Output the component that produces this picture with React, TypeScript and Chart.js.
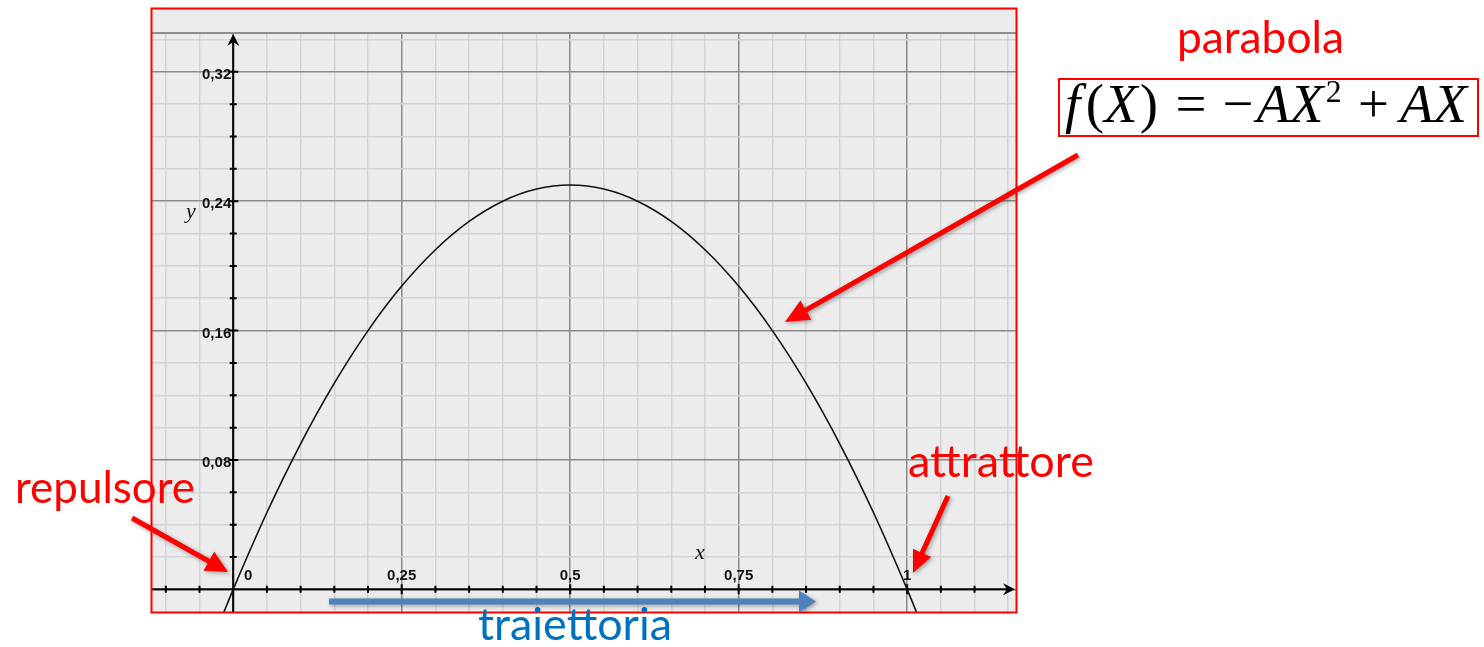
import React, { useEffect, useRef } from 'react';
import { Chart, registerables } from 'chart.js';

Chart.register(...registerables);

// Logistic parabola f(X) = -A X^2 + A X (A = 1), sampled every 0.05
const PARABOLA_X = [-0.015, 0, 0.05, 0.1, 0.15, 0.2, 0.25, 0.3, 0.35, 0.4, 0.45, 0.5, 0.55, 0.6, 0.65, 0.7, 0.75, 0.8, 0.85, 0.9, 0.95, 1, 1.015];
const PARABOLA_Y = [-0.0152, 0, 0.0475, 0.09, 0.1275, 0.16, 0.1875, 0.21, 0.2275, 0.24, 0.2475, 0.25, 0.2475, 0.24, 0.2275, 0.21, 0.1875, 0.16, 0.1275, 0.09, 0.0475, 0, -0.0152];

// Grid lines and axis ticks
const X_GRID = [-0.1, -0.05, 0, 0.05, 0.1, 0.15, 0.2, 0.25, 0.3, 0.35, 0.4, 0.45, 0.5, 0.55, 0.6, 0.65, 0.7, 0.75, 0.8, 0.85, 0.9, 0.95, 1, 1.05, 1.1, 1.15];
const Y_GRID = [0, 0.02, 0.04, 0.06, 0.08, 0.1, 0.12, 0.14, 0.16, 0.18, 0.2, 0.22, 0.24, 0.26, 0.28, 0.3, 0.32, 0.34];
const X_MAJOR_STEP = 0.25;
const Y_MAJOR_STEP = 0.08;

// Tick labels
const X_LABEL_VALUES = [0, 0.25, 0.5, 0.75, 1];
const X_LABEL_TEXT = ['0', '0,25', '0,5', '0,75', '1'];
const Y_LABEL_VALUES = [0.08, 0.16, 0.24, 0.32];
const Y_LABEL_TEXT = ['0,08', '0,16', '0,24', '0,32'];

// Visible window of the plot
const X_MIN = -0.122;
const X_MAX = 1.163;
const Y_MIN = -0.014;
const Y_MAX = 0.344;

const W = 1484;
const H = 647;
const FRAME = { left: 151, top: 8, right: 1017, bottom: 612, gridTop: 33 };

const isMajor = (v: number, step: number) => Math.abs(v / step - Math.round(v / step)) < 1e-6;

function fitText(
  ctx: CanvasRenderingContext2D,
  text: string,
  family: string,
  left: number,
  right: number,
  baseline: number,
  color: string,
) {
  ctx.font = `100px ${family}`;
  const w = ctx.measureText(text).width;
  const size = (100 * (right - left)) / w;
  ctx.font = `${size}px ${family}`;
  ctx.fillStyle = color;
  ctx.textAlign = 'left';
  ctx.textBaseline = 'alphabetic';
  ctx.fillText(text, left, baseline);
}

function blockArrow(
  ctx: CanvasRenderingContext2D,
  x1: number,
  y1: number,
  x2: number,
  y2: number,
  shaft: number,
  headLen: number,
  headHalf: number,
  color: string,
) {
  const dx = x2 - x1;
  const dy = y2 - y1;
  const len = Math.hypot(dx, dy);
  const ux = dx / len;
  const uy = dy / len;
  const px = -uy;
  const py = ux;
  const bx = x2 - ux * headLen;
  const by = y2 - uy * headLen;
  const s = shaft / 2;
  ctx.save();
  ctx.shadowColor = 'rgba(0,0,0,0.35)';
  ctx.shadowBlur = 4;
  ctx.shadowOffsetX = 1.5;
  ctx.shadowOffsetY = 1.5;
  ctx.fillStyle = color;
  ctx.beginPath();
  ctx.moveTo(x1 + px * s, y1 + py * s);
  ctx.lineTo(bx + px * s, by + py * s);
  ctx.lineTo(bx + px * headHalf, by + py * headHalf);
  ctx.lineTo(x2, y2);
  ctx.lineTo(bx - px * headHalf, by - py * headHalf);
  ctx.lineTo(bx - px * s, by - py * s);
  ctx.lineTo(x1 - px * s, y1 - py * s);
  ctx.closePath();
  ctx.fill();
  ctx.restore();
}

function axisHead(ctx: CanvasRenderingContext2D, tx: number, ty: number, dirX: number, dirY: number) {
  const len = 12;
  const half = 6;
  const notch = 8;
  const px = -dirY;
  const py = dirX;
  ctx.beginPath();
  ctx.moveTo(tx, ty);
  ctx.lineTo(tx - dirX * len + px * half, ty - dirY * len + py * half);
  ctx.lineTo(tx - dirX * notch, ty - dirY * notch);
  ctx.lineTo(tx - dirX * len - px * half, ty - dirY * len - py * half);
  ctx.closePath();
  ctx.fill();
}

const backgroundPlugin = {
  id: 'frameBackground',
  beforeDraw(chart: any) {
    const ctx: CanvasRenderingContext2D = chart.ctx;
    ctx.save();
    ctx.fillStyle = '#ffffff';
    ctx.fillRect(0, 0, W, H);
    ctx.fillStyle = '#ececec';
    ctx.fillRect(FRAME.left, FRAME.top, FRAME.right - FRAME.left, FRAME.bottom - FRAME.top);
    ctx.restore();
  },
};

const axesPlugin = {
  id: 'cartesianAxes',
  beforeDatasetsDraw(chart: any) {
    const ctx: CanvasRenderingContext2D = chart.ctx;
    const xs = chart.scales.x;
    const ys = chart.scales.y;
    const area = chart.chartArea;
    const x0 = xs.getPixelForValue(0);
    const y0 = ys.getPixelForValue(0);

    ctx.save();
    // separator under the top band
    ctx.strokeStyle = '#8e8e8e';
    ctx.lineWidth = 2;
    ctx.beginPath();
    ctx.moveTo(FRAME.left, FRAME.gridTop);
    ctx.lineTo(FRAME.right, FRAME.gridTop);
    ctx.stroke();

    ctx.strokeStyle = '#000';
    ctx.fillStyle = '#000';
    ctx.lineWidth = 2;
    const xTip = area.right - 2;
    const yTip = area.top + 1;
    ctx.beginPath();
    ctx.moveTo(area.left, y0);
    ctx.lineTo(xTip - 6, y0);
    ctx.moveTo(x0, area.bottom);
    ctx.lineTo(x0, yTip + 6);
    ctx.stroke();
    axisHead(ctx, xTip, y0, 1, 0);
    axisHead(ctx, x0, yTip, 0, -1);

    // tick marks
    ctx.lineWidth = 2;
    ctx.beginPath();
    X_GRID.forEach((v) => {
      if (v === 0 || v === X_GRID[X_GRID.length - 1]) return;
      const px = xs.getPixelForValue(v);
      const l = isMajor(v, X_MAJOR_STEP) ? 5 : 3.5;
      ctx.moveTo(px, y0 - l);
      ctx.lineTo(px, y0 + l);
    });
    Y_GRID.forEach((v) => {
      if (v === 0 || v === Y_GRID[Y_GRID.length - 1]) return;
      const py = ys.getPixelForValue(v);
      const l = isMajor(v, Y_MAJOR_STEP) ? 5 : 3.5;
      ctx.moveTo(x0 - l, py);
      ctx.lineTo(x0 + l, py);
    });
    ctx.stroke();

    // tick labels
    ctx.fillStyle = '#111';
    ctx.font = 'bold 15px "Liberation Sans"';
    ctx.textAlign = 'right';
    ctx.textBaseline = 'middle';
    Y_LABEL_VALUES.forEach((v, i) => {
      ctx.fillText(Y_LABEL_TEXT[i], x0 - 2, ys.getPixelForValue(v) + 3);
    });
    ctx.textAlign = 'center';
    ctx.textBaseline = 'alphabetic';
    X_LABEL_VALUES.forEach((v, i) => {
      const dx = v === 0 ? 15 : 0;
      ctx.fillText(X_LABEL_TEXT[i], xs.getPixelForValue(v) + dx, y0 - 9);
    });

    // axis names
    ctx.font = 'italic 22px "Liberation Serif"';
    ctx.textAlign = 'left';
    ctx.fillText('y', 186, 218);
    ctx.fillText('x', 695, 559);
    ctx.restore();
  },
};

const annotationPlugin = {
  id: 'annotations',
  afterDraw(chart: any) {
    const ctx: CanvasRenderingContext2D = chart.ctx;
    ctx.save();
    // frame
    ctx.strokeStyle = '#ff0000';
    ctx.lineWidth = 2;
    ctx.strokeRect(FRAME.left + 0.5, FRAME.top + 0.5, FRAME.right - FRAME.left - 1, FRAME.bottom - FRAME.top);

    const sans = 'Lato, "Open Sans", sans-serif';
    fitText(ctx, 'parabola', sans, 1177, 1344, 53, '#ff0000');
    fitText(ctx, 'repulsore', sans, 15, 195, 503, '#ff0000');
    fitText(ctx, 'attrattore', sans, 908, 1094, 477, '#ff0000');
    fitText(ctx, 'traiettoria', sans, 478, 672, 640, '#0070c0');

    // formula box
    ctx.strokeStyle = '#ff0000';
    ctx.lineWidth = 2;
    ctx.strokeRect(1059, 79, 419, 57);

    type Seg = { t?: string; it?: boolean; sup?: boolean; gap?: number };
    const segs: Seg[] = [
      { t: 'f', it: true },
      { gap: 0.1 },
      { t: '(' },
      { t: 'X', it: true },
      { gap: 0.04 },
      { t: ')' },
      { gap: 0.32 },
      { t: '=' },
      { gap: 0.3 },
      { t: '\u2212' },
      { gap: 0.05 },
      { t: 'AX', it: true },
      { gap: 0.04 },
      { t: '2', sup: true },
      { gap: 0.3 },
      { t: '+' },
      { gap: 0.2 },
      { t: 'AX', it: true },
    ];
    const serif = '"Liberation Serif", serif';
    const fontFor = (s: Seg, size: number) =>
      `${s.it ? 'italic ' : ''}${s.sup ? size * 0.58 : size}px ${serif}`;
    const measure = (size: number) => {
      let w = 0;
      segs.forEach((s) => {
        if (s.gap !== undefined) {
          w += s.gap * size;
        } else {
          ctx.font = fontFor(s, size);
          w += ctx.measureText(s.t as string).width;
        }
      });
      return w;
    };
    const size = (100 * (1467 - 1065)) / measure(100);
    let cx = 1065;
    const base = 122;
    ctx.fillStyle = '#000';
    ctx.textAlign = 'left';
    ctx.textBaseline = 'alphabetic';
    segs.forEach((s) => {
      if (s.gap !== undefined) {
        cx += s.gap * size;
        return;
      }
      ctx.font = fontFor(s, size);
      ctx.fillText(s.t as string, cx, s.sup ? base - size * 0.36 : base);
      cx += ctx.measureText(s.t as string).width;
    });

    // arrows
    blockArrow(ctx, 1078, 155, 785, 322, 5, 24, 11, '#ff0000');
    blockArrow(ctx, 132, 518, 228, 572, 5, 22, 11, '#ff0000');
    blockArrow(ctx, 948, 496, 913, 573, 5, 22, 10, '#ff0000');
    blockArrow(ctx, 329, 601.5, 816, 601.5, 6, 17, 11, '#4f81bd');
    ctx.restore();
  },
};

export default function App() {
  const canvasRef = useRef<HTMLCanvasElement | null>(null);

  useEffect(() => {
    const canvas = canvasRef.current;
    if (!canvas) return;
    const points = PARABOLA_X.map((x, i) => ({ x, y: PARABOLA_Y[i] }));
    const gridColor = (step: number) => (c: any) =>
      c.tick && isMajor(c.tick.value, step) ? '#8a8a8a' : '#d3d3d3';

    const chart = new Chart(canvas, {
      type: 'scatter',
      data: {
        datasets: [
          {
            data: points,
            showLine: true,
            borderColor: '#111111',
            borderWidth: 1.6,
            pointRadius: 0,
            cubicInterpolationMode: 'monotone',
            fill: false,
          } as any,
        ],
      },
      options: {
        responsive: false,
        animation: false,
        devicePixelRatio: 1,
        layout: {
          padding: {
            left: FRAME.left,
            right: W - FRAME.right,
            top: FRAME.gridTop,
            bottom: H - FRAME.bottom,
          },
        },
        plugins: {
          legend: { display: false },
          tooltip: { enabled: false },
        },
        events: [],
        scales: {
          x: {
            type: 'linear',
            min: X_MIN,
            max: X_MAX,
            afterBuildTicks: (s: any) => {
              s.ticks = X_GRID.map((v) => ({ value: v }));
            },
            ticks: { display: false },
            border: { display: false },
            grid: { drawTicks: false, color: gridColor(X_MAJOR_STEP), lineWidth: 1.5 },
          },
          y: {
            type: 'linear',
            min: Y_MIN,
            max: Y_MAX,
            afterBuildTicks: (s: any) => {
              s.ticks = Y_GRID.map((v) => ({ value: v }));
            },
            ticks: { display: false },
            border: { display: false },
            grid: { drawTicks: false, color: gridColor(Y_MAJOR_STEP), lineWidth: 1.5 },
          },
        },
      },
      plugins: [backgroundPlugin, axesPlugin, annotationPlugin],
    });
    return () => chart.destroy();
  }, []);

  return (
    <div style={{ position: 'absolute', left: 0, top: 0, width: W, height: H }}>
      <canvas ref={canvasRef} width={W} height={H} style={{ display: 'block' }} />
    </div>
  );
}
